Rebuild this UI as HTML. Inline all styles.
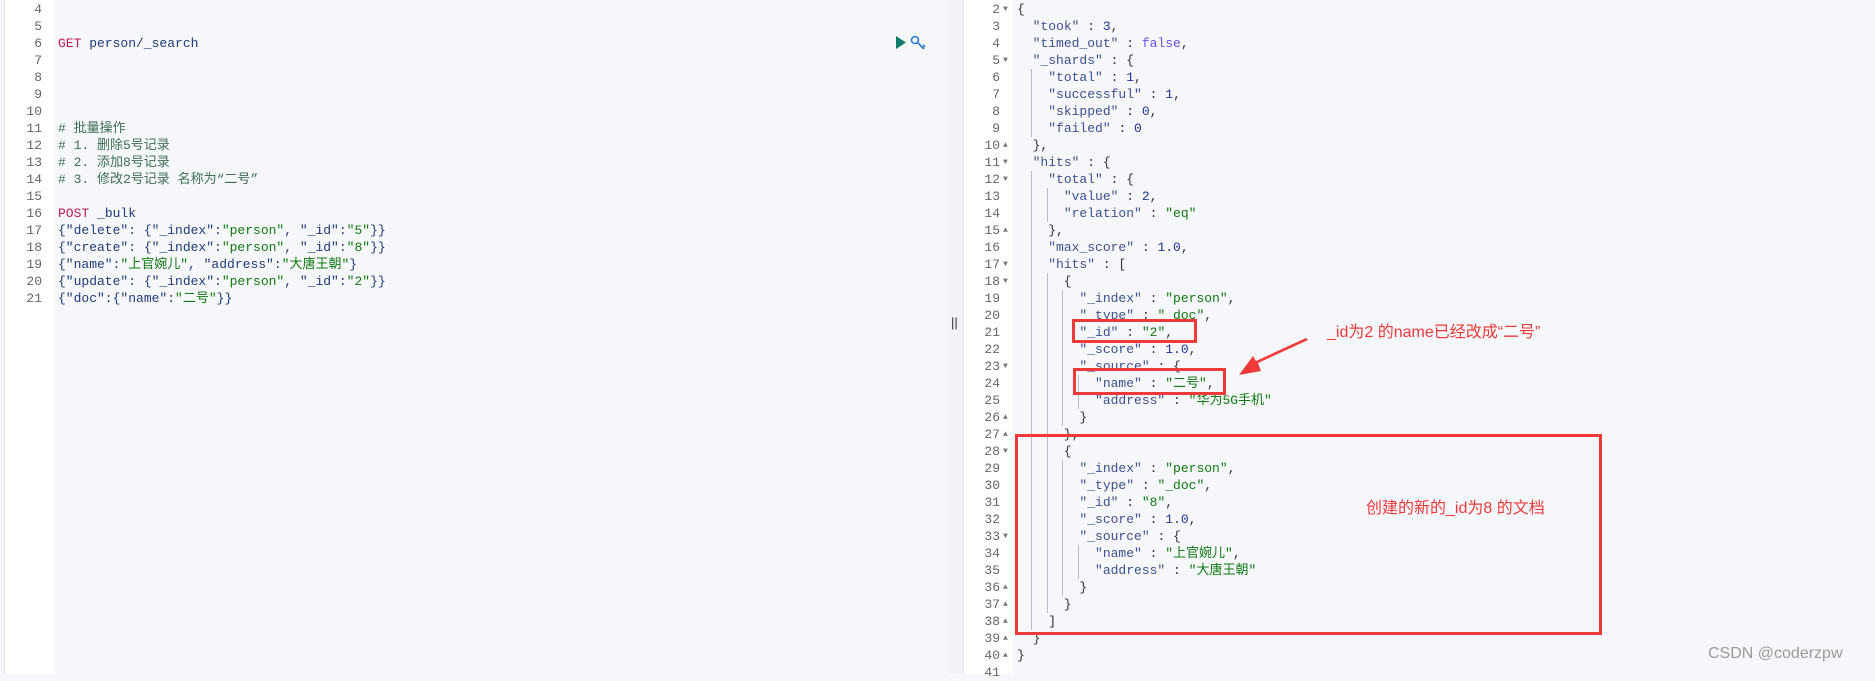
<!DOCTYPE html>
<html><head><meta charset="utf-8"><style>
*{margin:0;padding:0;box-sizing:border-box}
body{width:1875px;height:674px;background:#f5f7fa;position:relative;overflow:hidden;font-family:"Liberation Mono","Noto Sans CJK SC",monospace;font-size:13px;color:#333}
.g{position:absolute;background:#fff}
pre{position:absolute;font-family:"Liberation Mono","Noto Sans CJK SC",monospace;font-size:13px;line-height:17px}
.n{color:#666;text-align:right}
.k{color:#3f4f8f}.s{color:#107a10}.m{color:#23339a}.b{color:#6a4ff0}.c{color:#3e6e55}.v{color:#c2185b}.p{color:#333}
.guide{position:absolute;width:1px;background:#b8bcc8}
.box{position:absolute;border:3px solid #f03a3a}
.lbl{position:absolute;color:#f03a3a;font-family:"Liberation Sans","Noto Sans CJK SC",sans-serif;font-size:16px;white-space:nowrap}
.f{font-size:8px;color:#777}
</style></head><body>
<div class="g" style="left:4px;top:0;width:50px;height:674px;border-left:1px solid #dde0ea"></div>
<pre class="n" style="left:4px;top:1px;width:38px">4
5
6
7
8
9
10
11
12
13
14
15
16
17
18
19
20
21</pre>
<pre style="left:58px;top:1px;color:#223a7a"> 

<span class="v">GET</span> person/_search




<span class="c"># 批量操作</span>
<span class="c"># 1. 删除5号记录</span>
<span class="c"># 2. 添加8号记录</span>
<span class="c"># 3. 修改2号记录 名称为“二号”</span>

<span class="v">POST</span> _bulk
{"delete": {"_index":<span class="s">"person"</span>, "_id":<span class="s">"5"</span>}}
{"create": {"_index":<span class="s">"person"</span>, "_id":<span class="s">"8"</span>}}
{"name":<span class="s">"上官婉儿"</span>, "address":<span class="s">"大唐王朝"</span>}
{"update": {"_index":<span class="s">"person"</span>, "_id":<span class="s">"2"</span>}}
{"doc":{"name":<span class="s">"二号"</span>}}</pre>
<svg style="position:absolute;left:894px;top:34px" width="40" height="20"><polygon points="2,2 12,8.5 2,15" fill="#127a6a"/><g fill="none" stroke="#2a78d0" stroke-width="1.6"><circle cx="21" cy="6" r="3.5"/><path d="M23.5 8.5 L30 15 M29 11 l2 2"/></g></svg>
<div style="position:absolute;left:948px;top:0;width:15px;height:674px;background:#f0f2f6"></div>
<div style="position:absolute;left:951px;top:315px;font-family:'Liberation Sans',sans-serif;font-size:13px;color:#333">||</div>
<div class="g" style="left:963px;top:0;width:50px;height:674px;border-left:1px solid #e2e5ee"></div>
<pre class="n" style="left:963px;top:1px;width:37px">2
3
4
5
6
7
8
9
10
11
12
13
14
15
16
17
18
19
20
21
22
23
24
25
26
27
28
29
30
31
32
33
34
35
36
37
38
39
40
41</pre>
<pre class="f" style="left:1003px;top:1px;line-height:17px">▼


▼




▲
▼
▼


▲

▼
▼




▼


▲
▲
▼




▼


▲
▲
▲
▲
▲</pre>
<div class="guide" style="left:1031px;top:69px;height:68px"></div>
<div class="guide" style="left:1031px;top:171px;height:459px"></div>
<div class="guide" style="left:1047px;top:188px;height:34px"></div>
<div class="guide" style="left:1047px;top:273px;height:340px"></div>
<div class="guide" style="left:1062px;top:290px;height:136px"></div>
<div class="guide" style="left:1062px;top:460px;height:136px"></div>
<div class="guide" style="left:1078px;top:375px;height:34px"></div>
<div class="guide" style="left:1078px;top:545px;height:34px"></div>
<pre style="left:1017px;top:1px" class="p">{
  <span class="k">"took"</span> : <span class="m">3</span>,
  <span class="k">"timed_out"</span> : <span class="b">false</span>,
  <span class="k">"_shards"</span> : {
    <span class="k">"total"</span> : <span class="m">1</span>,
    <span class="k">"successful"</span> : <span class="m">1</span>,
    <span class="k">"skipped"</span> : <span class="m">0</span>,
    <span class="k">"failed"</span> : <span class="m">0</span>
  },
  <span class="k">"hits"</span> : {
    <span class="k">"total"</span> : {
      <span class="k">"value"</span> : <span class="m">2</span>,
      <span class="k">"relation"</span> : <span class="s">"eq"</span>
    },
    <span class="k">"max_score"</span> : <span class="m">1.0</span>,
    <span class="k">"hits"</span> : [
      {
        <span class="k">"_index"</span> : <span class="s">"person"</span>,
        <span class="k">"_type"</span> : <span class="s">"_doc"</span>,
        <span class="k">"_id"</span> : <span class="s">"2"</span>,
        <span class="k">"_score"</span> : <span class="m">1.0</span>,
        <span class="k">"_source"</span> : {
          <span class="k">"name"</span> : <span class="s">"二号"</span>,
          <span class="k">"address"</span> : <span class="s">"华为5G手机"</span>
        }
      },
      {
        <span class="k">"_index"</span> : <span class="s">"person"</span>,
        <span class="k">"_type"</span> : <span class="s">"_doc"</span>,
        <span class="k">"_id"</span> : <span class="s">"8"</span>,
        <span class="k">"_score"</span> : <span class="m">1.0</span>,
        <span class="k">"_source"</span> : {
          <span class="k">"name"</span> : <span class="s">"上官婉儿"</span>,
          <span class="k">"address"</span> : <span class="s">"大唐王朝"</span>
        }
      }
    ]
  }
}</pre>
<div class="box" style="left:1072px;top:319px;width:125px;height:24px"></div>
<div class="box" style="left:1073px;top:368px;width:153px;height:27px"></div>
<div class="box" style="left:1015px;top:434px;width:587px;height:201px"></div>
<div class="lbl" style="left:1327px;top:318px">_id为2 的name已经改成“二号”</div>
<div class="lbl" style="left:1366px;top:494px">创建的新的_id为8 的文档</div>
<svg style="position:absolute;left:1230px;top:330px" width="90" height="55"><polygon points="78,10 28,33 31,41 9,45 23,26 26,31 76,8" fill="#f03a3a"/></svg>
<div style="position:absolute;left:1708px;top:645px;font-family:'Liberation Sans',sans-serif;font-size:16px;color:#9a9a9a">CSDN @coderzpw</div>
</body></html>
